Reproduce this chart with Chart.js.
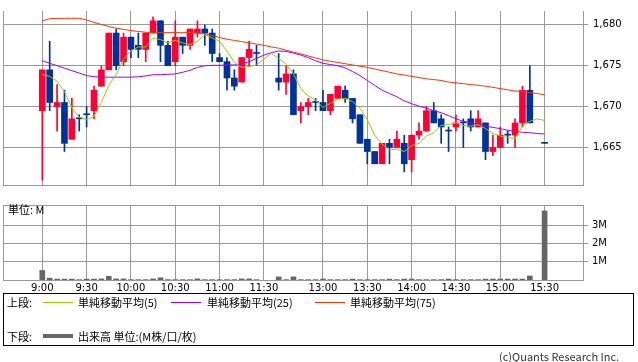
<!DOCTYPE html>
<html>
<head>
<meta charset="utf-8">
<script src="https://cdn.jsdelivr.net/npm/chart.js@4.4.1/dist/chart.umd.min.js"></script>
<style>
  body { margin: 0; background: #fff; }
  #wrap { position: relative; width: 638px; height: 362px; overflow: hidden; background: #fff; }
  canvas { position: absolute; left: 0; }
  .txt { position: absolute; font-family: "Noto Sans CJK JP", sans-serif; font-size: 11px; color: #000; line-height: 14px; white-space: nowrap; }
  .swatch { position: absolute; height: 1px; }
  #legend { position: absolute; left: 3px; top: 293px; width: 629px; height: 51px; border: 1px solid #000; }
</style>
</head>
<body>
<div id="wrap">
  <canvas id="priceChart" width="638" height="196" style="top:0"></canvas>
  <canvas id="volumeChart" width="638" height="100" style="top:195px"></canvas>
  <div class="txt" style="left:8px;top:202px;">単位: M</div>
  <div id="legend"></div>
  <div class="txt" style="left:7px;top:295px;">上段:</div>
  <div class="swatch" style="left:43px;top:302px;width:30px;background:#99cc00;"></div>
  <div class="txt" style="left:78px;top:295px;">単純移動平均(5)</div>
  <div class="swatch" style="left:171px;top:302px;width:30px;background:#9900ff;"></div>
  <div class="txt" style="left:207px;top:295px;">単純移動平均(25)</div>
  <div class="swatch" style="left:315px;top:302px;width:30px;background:#ff3300;"></div>
  <div class="txt" style="left:350px;top:295px;">単純移動平均(75)</div>
  <div class="txt" style="left:7px;top:329px;">下段:</div>
  <div class="swatch" style="left:43px;top:334px;width:30px;height:4px;background:#666;"></div>
  <div class="txt" style="left:78px;top:329px;">出来高 単位:(M株/口/枚)</div>
  <div class="txt" style="left:499px;top:349px;color:#333;">(c)Quants Research Inc.</div>
</div>
<script>
// 5-minute slots: index 0 = 9:00 ... 29 = 11:25, 32 = 12:30 ... 68 = 15:30 (null = no trade)
const opens = [1669.5, 1674.5, 1670, 1670.5, 1666, 1668.5, 1669, 1669.5, 1672.5, 1674.5,
  1679, 1675.5, 1678.5, 1677.5, 1677, 1679, 1680.5, 1677.5, 1675.5, 1678.5,
  1677.5, 1679, 1679.5, 1679, 1676, 1675.5, 1673.5, 1673, 1676, 1676.5,
  null, null, 1673.5, 1673, 1674, 1669.5, 1670, 1670.5, 1670.5, 1669.5,
  1671, 1672, 1671, 1669, 1666, 1664.5, 1663, 1665.5, 1665, 1665.5,
  1663.5, 1666.5, 1667, 1669.5, 1668.5, 1667, 1667.5, 1668, 1668.5, 1667.5,
  1668, 1664.5, 1665, 1666.5, 1666.5, 1668, 1672, null, 1665.5];
const highs = [1674.5, 1678, 1672.7, 1672, 1671, 1669, 1670, 1672.5, 1675, 1679,
  1679.5, 1679, 1678.5, 1679, 1679, 1681, 1680.5, 1678, 1680.5, 1678.5,
  1679.5, 1680.5, 1680, 1679.5, 1676.5, 1676, 1674.5, 1676, 1678, 1677.5,
  null, null, 1676.5, 1675, 1674.5, 1670.5, 1671, 1671, 1672, 1671.5,
  1672.5, 1672.5, 1671, 1669, 1666, 1664.5, 1665.5, 1666, 1667, 1666.5,
  1666.5, 1668, 1670, 1670.5, 1669, 1667.5, 1669, 1668.5, 1669.5, 1669.5,
  1668, 1666.5, 1667.5, 1667, 1668.5, 1672.5, 1675, null, 1665.5];
const lows = [1661, 1669.5, 1667, 1664.5, 1666, 1667, 1667.5, 1668.5, 1672.5, 1674.5,
  1674.5, 1675, 1676, 1676, 1675.5, 1679, 1675.5, 1675, 1675, 1676.5,
  1677, 1678.5, 1677.5, 1675.5, 1675.5, 1672, 1672, 1673, 1675, 1675,
  null, null, 1672, 1671.5, 1669, 1668, 1669, 1669.5, 1669.5, 1669,
  1671, 1670.5, 1668, 1665.5, 1663, 1663, 1663, 1663, 1665, 1662,
  1662, 1666, 1667, 1668, 1665.5, 1664.5, 1667, 1665, 1667, 1667.5,
  1663.5, 1664, 1665, 1665.5, 1665, 1667.5, 1668, null, 1665.5];
const closes = [1674.5, 1670.5, 1670.5, 1665.5, 1668.5, 1668.5, 1669, 1672, 1674.5, 1679,
  1675, 1678.5, 1677, 1677, 1679, 1680.5, 1677.5, 1675, 1678.5, 1677.5,
  1679.5, 1679.5, 1679, 1676.5, 1675.5, 1673.5, 1672.5, 1676, 1677, 1676.5,
  null, null, 1673, 1674, 1669, 1670, 1670.5, 1670.5, 1669.5, 1671.5,
  1672.5, 1671, 1668.5, 1665.5, 1664.5, 1663, 1665.5, 1665, 1666, 1663,
  1666.5, 1667, 1669.5, 1668, 1667.5, 1667, 1668, 1668, 1667.5, 1668.5,
  1664.5, 1665, 1666.5, 1666.5, 1668, 1672, 1668, null, 1665.5];

const ma5 = [1673.9, 1673.7, 1673.1, 1671.8, 1669.9, 1668.7, 1668.4, 1668.8, 1670.5, 1672.6,
  1673.9, 1675.8, 1676.8, 1677.3, 1677.3, 1678.4, 1678.2, 1677.8, 1678.1, 1677.8,
  1677.6, 1678.0, 1678.8, 1678.4, 1678.0, 1676.8, 1675.4, 1674.8, 1674.9, 1675.1,
  1675.8, 1676.5, 1675.9, 1675.2, 1674.0, 1672.2, 1671.3, 1670.8, 1669.9, 1670.4,
  1670.9, 1671.0, 1670.6, 1669.8, 1668.4, 1666.5, 1665.4, 1664.7, 1664.8, 1664.5,
  1665.2, 1665.5, 1666.4, 1666.8, 1667.7, 1667.8, 1668.0, 1667.7, 1667.6, 1667.8,
  1667.3, 1666.7, 1666.4, 1666.2, 1666.1, 1667.6, 1668.2, 1668.5, 1668.3];
const ma25 = [1675.6, 1675.3, 1675.0, 1674.7, 1674.4, 1674.1, 1673.8, 1673.65, 1673.6, 1673.6,
  1673.6, 1673.6, 1673.6, 1673.65, 1673.75, 1673.9, 1673.9, 1673.95, 1674.0, 1674.2,
  1674.45, 1674.8, 1675.0, 1675.05, 1675.05, 1675.1, 1675.1, 1675.2, 1675.5, 1675.9,
  1676.3, 1676.6, 1676.8, 1676.75, 1676.55, 1676.3, 1676.0, 1675.6, 1675.3, 1675.15,
  1675.0, 1674.75, 1674.3, 1673.8, 1673.2, 1672.6, 1672.0, 1671.6, 1671.2, 1670.7,
  1670.35, 1670.05, 1669.8, 1669.5, 1669.25, 1668.9, 1668.5, 1668.2, 1668.0, 1667.8,
  1667.6, 1667.45, 1667.3, 1667.1, 1666.95, 1666.85, 1666.8, 1666.7, 1666.65];
const ma75 = [1680.5, 1680.75, 1680.8, 1680.8, 1680.8, 1680.8, 1680.6, 1680.3, 1680.05, 1679.8,
  1679.6, 1679.45, 1679.3, 1679.2, 1679.1, 1679.05, 1679.05, 1679.05, 1679.05, 1679.05,
  1679.05, 1679.0, 1678.9, 1678.7, 1678.45, 1678.25, 1678.1, 1677.95, 1677.8, 1677.65,
  1677.5, 1677.3, 1677.15, 1676.9, 1676.65, 1676.45, 1676.2, 1675.95, 1675.7, 1675.55,
  1675.4, 1675.25, 1675.1, 1674.95, 1674.8, 1674.6, 1674.4, 1674.2, 1674.0, 1673.85,
  1673.7, 1673.55, 1673.4, 1673.3, 1673.2, 1673.0, 1672.9, 1672.8, 1672.7, 1672.6,
  1672.5, 1672.35, 1672.2, 1672.05, 1671.9, 1671.85, 1671.7, 1671.6, 1671.45];

// volume in millions of shares
const volumes = [0.52, 0.10, 0.05, 0.05, 0.05, 0.02, 0.05, 0.05, 0.06, 0.20,
  0.06, 0.06, 0.02, 0.02, 0.02, 0.06, 0.12, 0.02, 0.02, 0.02,
  0.02, 0.06, 0.02, 0.02, 0.02, 0.02, 0.02, 0.06, 0.06, 0.02,
  null, null, 0.17, 0.02, 0.17, 0.02, 0.02, 0.02, 0.05, 0.02,
  0.02, 0.02, 0.05, 0.02, 0.02, 0.02, 0.02, 0.05, 0.02, 0.05,
  0.05, 0.02, 0.02, 0.02, 0.02, 0.05, 0.02, 0.02, 0.02, 0.02,
  0.05, 0.05, 0.05, 0.05, 0.05, 0.05, 0.22, null, 3.78];

const timeLabels = ['9:00', '9:30', '10:00', '10:30', '11:00', '11:30',
  '13:00', '13:30', '14:00', '14:30', '15:00', '15:30'];
const timeSlots = [0, 6, 12, 18, 24, 30, 38, 44, 50, 56, 62, 68];
const priceTicks = [1665, 1670, 1675, 1680];
const volumeTicks = [1, 2, 3];

const X_MIN = -5.32, X_MAX = 73.2;
const GRID = '#999999';
const UP = '#ff0033', DOWN = '#003399';

const idx = opens.map((o, i) => i).filter(i => opens[i] !== null);
const candleColors = idx.map(i => closes[i] > opens[i] ? UP : DOWN);

function xScale(showLabels) {
  return {
    type: 'linear',
    min: X_MIN,
    max: X_MAX,
    offset: false,
    afterBuildTicks: s => { s.ticks = [X_MIN, ...timeSlots, X_MAX].map(v => ({ value: v })); },
    ticks: {
      display: showLabels,
      autoSkip: false,
      maxRotation: 0,
      padding: 2,
      color: '#000',
      font: { family: 'DejaVu Sans', size: 10 },
      callback: v => { const k = timeSlots.indexOf(v); return k < 0 ? '' : timeLabels[k]; }
    },
    grid: { color: GRID, drawTicks: false, offset: false },
    border: { color: GRID },
    afterFit: s => { s.height = showLabels ? 15 : 0; }
  };
}

new Chart(document.getElementById('priceChart'), {
  type: 'bar',
  data: {
    datasets: [
      { type: 'line', data: ma5.map((v, i) => ({ x: i, y: v })), borderColor: '#99cc00', borderWidth: 1, pointRadius: 0, order: 0 },
      { type: 'line', data: ma25.map((v, i) => ({ x: i, y: v })), borderColor: '#9900ff', borderWidth: 1, pointRadius: 0, order: 0 },
      { type: 'line', data: ma75.map((v, i) => ({ x: i, y: v })), borderColor: '#ff3300', borderWidth: 1, pointRadius: 0, order: 0 },
      {
        data: idx.map(i => ({ x: i, y: [opens[i], closes[i]] })),
        backgroundColor: candleColors, barThickness: 6, minBarLength: 1, grouped: false, order: 1
      },
      {
        data: idx.map(i => ({ x: i, y: [lows[i], highs[i]] })),
        backgroundColor: candleColors, barThickness: 1, minBarLength: 1, grouped: false, order: 2
      }
    ]
  },
  options: {
    responsive: false,
    animation: false,
    devicePixelRatio: 1,
    layout: { padding: { left: 3, top: 0, right: 0, bottom: 6 } },
    plugins: { legend: { display: false }, tooltip: { enabled: false } },
    scales: {
      x: xScale(false),
      y: {
        position: 'right',
        min: 1660.4,
        max: 1681.7,
        afterBuildTicks: s => { s.ticks = priceTicks.map(v => ({ value: v })); },
        ticks: {
          color: '#000',
          padding: 5,
          font: { family: 'DejaVu Sans', size: 10 },
          callback: v => v.toLocaleString('en-US')
        },
        grid: { color: GRID, tickLength: 5 },
        border: { color: GRID },
        afterFit: s => { s.width = 55; }
      }
    }
  }
});

new Chart(document.getElementById('volumeChart'), {
  type: 'bar',
  data: {
    datasets: [{
      data: volumes.map((v, i) => ({ x: i, y: v })).filter(p => p.y !== null),
      backgroundColor: '#666666',
      barThickness: 5
    }]
  },
  options: {
    responsive: false,
    animation: false,
    devicePixelRatio: 1,
    layout: { padding: { left: 3, top: 6, right: 0, bottom: 0 } },
    plugins: { legend: { display: false }, tooltip: { enabled: false } },
    scales: {
      x: xScale(true),
      y: {
        position: 'right',
        min: 0,
        max: 4.1,
        afterBuildTicks: s => { s.ticks = [...volumeTicks, 4.1].map(v => ({ value: v })); },
        ticks: {
          color: '#000',
          padding: 4,
          font: { family: 'DejaVu Sans', size: 10 },
          callback: v => volumeTicks.includes(v) ? v + 'M' : ''
        },
        grid: {
          color: GRID,
          tickLength: 5,
          tickColor: c => (c.tick && c.tick.value > 3.5) ? 'rgba(0,0,0,0)' : GRID
        },
        border: { color: GRID },
        afterFit: s => { s.width = 55; }
      }
    }
  }
});
</script>
</body>
</html>
